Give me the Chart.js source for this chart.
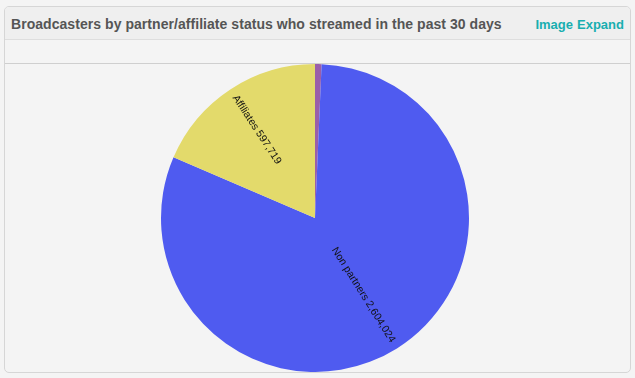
<!DOCTYPE html>
<html>
<head>
<meta charset="utf-8">
<script src="https://cdn.jsdelivr.net/npm/chart.js@4/dist/chart.umd.min.js"></script>
<style>
  html, body { margin: 0; padding: 0; background: #f4f4f4; width: 635px; height: 378px; overflow: hidden; }
  .card { position: absolute; left: 4px; top: 6px; width: 625px; height: 365px; border: 1px solid #d6d6d6; border-radius: 5px; background: #f4f4f4; overflow: hidden; }
  .head { height: 32px; background: #efefef; border-bottom: 1px solid #dedede; position: relative; font-family: "Liberation Sans", Arial, sans-serif; }
  .title { position: absolute; left: 6px; top: 9px; font-size: 14px; letter-spacing: 0.05px; font-weight: bold; color: #555; }
  .links { position: absolute; right: 6px; top: 10px; font-size: 13px; font-weight: bold; color: #19aeb0; }
  .links span { margin-left: 4px; }
  .row { height: 23px; border-bottom: 1px solid #cfcfcf; }
  .chartbox { position: absolute; left: 0px; top: 57px; width: 620px; height: 308px; }
</style>
</head>
<body>
<div class="card">
  <div class="head">
    <div class="title">Broadcasters by partner/affiliate status who streamed in the past 30 days</div>
    <div class="links"><span>Image</span><span>Expand</span></div>
  </div>
  <div class="row"></div>
  <div class="chartbox"><canvas id="pie"></canvas></div>
</div>
<script>
// data
var labels = ["Partners", "Non partners", "Affiliates"];
var counts = [22000, 2604024, 597719];
var colors = ["#9a5fa9", "#4f5bf0", "#e3da6b"];

// labels drawn along the radius of each slice
var radialLabels = {
    id: "radialLabels",
    afterDatasetsDraw: function(chart) {
        var ctx = chart.ctx;
        var arcs = chart.getDatasetMeta(0).data;
        ctx.save();
        ctx.font = "10.5px 'Liberation Sans', Arial, sans-serif";
        ctx.fillStyle = "#111";
        ctx.textBaseline = "middle";
        arcs.forEach(function(arc, i) {
            var p = arc.getProps(["x", "y", "startAngle", "endAngle", "outerRadius"], true);
            if (p.endAngle - p.startAngle < 0.1) return;
            var mid = (p.startAngle + p.endAngle) / 2;
            var txt = labels[i] + " " + counts[i].toLocaleString("en-US");
            var r = p.outerRadius - 8;
            ctx.save();
            ctx.translate(p.x, p.y);
            if (Math.cos(mid) >= 0) {
                ctx.rotate(mid);
                ctx.textAlign = "right";
                ctx.fillText(txt, r, 0);
            } else {
                ctx.rotate(mid + Math.PI);
                ctx.textAlign = "left";
                ctx.fillText(txt, -r, 0);
            }
            ctx.restore();
        });
        ctx.restore();
    }
};

new Chart(document.getElementById("pie").getContext("2d"), {
    type: "pie",
    data: {
        labels: labels,
        datasets: [{
            data: counts,
            backgroundColor: colors,
            borderWidth: 0
        }]
    },
    options: {
        responsive: true,
        maintainAspectRatio: false,
        animation: false,
        layout: { padding: 0 },
        plugins: {
            legend: { display: false },
            tooltip: { enabled: false }
        }
    },
    plugins: [radialLabels]
});
</script>
</body>
</html>
